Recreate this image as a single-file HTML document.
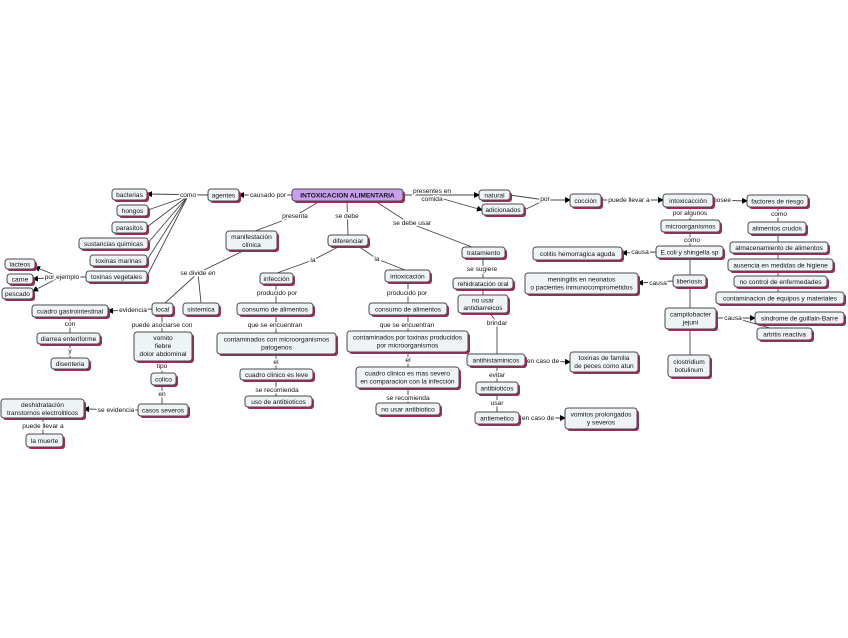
<!DOCTYPE html>
<html><head><meta charset="utf-8"><style>
html,body{margin:0;padding:0;background:#fff;}
svg{display:block;}
text{font-family:"Liberation Sans",sans-serif;font-size:6.6px;fill:#111;text-anchor:middle;}
.l{paint-order:stroke;stroke:#fff;stroke-width:3px;stroke-linejoin:round;}
.sh{fill:#a3285c;}
.n{fill:#eef3f6;stroke:#4a4a4a;stroke-width:1;}
line,polyline{stroke:#444;stroke-width:0.9;fill:none;}
</style></head><body>
<svg width="848" height="638" viewBox="0 0 848 638" xmlns="http://www.w3.org/2000/svg">
<defs><marker id="a" markerWidth="6" markerHeight="6" refX="5" refY="3" orient="auto" markerUnits="userSpaceOnUse"><path d="M0,0 L6,3 L0,6 z" fill="#000"/></marker></defs>
<!-- lines -->
<polyline points="292,195 239,195" marker-end="url(#a)"/>
<polyline points="208,195 147,194" marker-end="url(#a)"/>
<line x1="188" y1="196" x2="148" y2="210"/><line x1="188" y1="196" x2="147" y2="227"/><line x1="188" y1="196" x2="148" y2="243"/><line x1="188" y1="196" x2="147" y2="260"/><line x1="188" y1="196" x2="147" y2="276"/>
<line x1="86" y1="277" x2="60" y2="277"/>
<polyline points="60,277 35,267" marker-end="url(#a)"/><polyline points="60,277 33,279" marker-end="url(#a)"/><polyline points="60,277 33,291" marker-end="url(#a)"/>
<polyline points="320,201 295,216 255,231"/>
<polyline points="347,201 348,235"/>
<polyline points="375,201 409,223 472,247"/>
<line x1="403" y1="195" x2="440" y2="195"/>
<polyline points="440,195 479,195" marker-end="url(#a)"/><polyline points="440,198 482,210" marker-end="url(#a)"/>
<polyline points="510,195 545,200"/><polyline points="524,210 545,200"/>
<polyline points="545,200 570,200" marker-end="url(#a)"/>
<polyline points="601,200 663,200" marker-end="url(#a)"/>
<polyline points="713,200 747,201" marker-end="url(#a)"/>
<line x1="778" y1="207" x2="778" y2="292"/>
<line x1="690" y1="207" x2="690" y2="355"/>
<polyline points="656,252 622,253" marker-end="url(#a)"/>
<polyline points="673,281 638,283" marker-end="url(#a)"/>
<polyline points="716,318 755,318" marker-end="url(#a)"/>
<line x1="735" y1="318" x2="770" y2="328"/>
<polyline points="245,250 198,273 165,303"/><line x1="198" y1="273" x2="201" y2="303"/>
<polyline points="152,309 108,311" marker-end="url(#a)"/>
<line x1="70" y1="317" x2="70" y2="358"/>
<line x1="162" y1="315" x2="162" y2="404"/>
<polyline points="138,410 84,409" marker-end="url(#a)"/>
<line x1="43" y1="418" x2="43" y2="434"/>
<polyline points="340,246 313,260 277,273"/><polyline points="358,246 377,259 405,270"/>
<line x1="276" y1="284" x2="276" y2="396"/>
<line x1="408" y1="282" x2="408" y2="403"/>
<line x1="483" y1="258" x2="483" y2="295"/>
<polyline points="490,313 497,323 497,412"/>
<polyline points="525,360 570,362" marker-end="url(#a)"/>
<polyline points="519,418 565,418" marker-end="url(#a)"/>
<!-- link labels -->
<text class="l" x="268" y="197">causado por</text>
<text class="l" x="188" y="197">como</text>
<text class="l" x="62" y="279">por ejemplo</text>
<text class="l" x="295" y="218">presenta</text>
<text class="l" x="347" y="218">se debe</text>
<text class="l" x="412" y="225">se debe usar</text>
<text class="l" x="432" y="193">presentes en</text>
<text class="l" x="432" y="201">comida</text>
<text class="l" x="545" y="201">por</text>
<text class="l" x="629" y="202">puede llevar a</text>
<text class="l" x="722" y="202">posee</text>
<text class="l" x="779" y="216">como</text>
<text class="l" x="690" y="215">por algunos</text>
<text class="l" x="692" y="242">como</text>
<text class="l" x="640" y="254">causa</text>
<text class="l" x="658" y="285">causa</text>
<text class="l" x="733" y="320">causa</text>
<text class="l" x="198" y="275">se divide en</text>
<text class="l" x="133" y="312">evidencia</text>
<text class="l" x="70" y="326">con</text>
<text class="l" x="70" y="353">y</text>
<text class="l" x="162" y="327">puede asociarse con</text>
<text class="l" x="162" y="368">tipo</text>
<text class="l" x="162" y="396">en</text>
<text class="l" x="116" y="412">se evidencia</text>
<text class="l" x="43" y="428">puede llevar a</text>
<text class="l" x="313" y="262">la</text>
<text class="l" x="377" y="261">la</text>
<text class="l" x="277" y="295">producido por</text>
<text class="l" x="275" y="327">que se encuentran</text>
<text class="l" x="276" y="364">el</text>
<text class="l" x="277" y="392">se recomienda</text>
<text class="l" x="407" y="295">producido por</text>
<text class="l" x="407" y="327">que se encuentran</text>
<text class="l" x="408" y="362">el</text>
<text class="l" x="408" y="400">se recomienda</text>
<text class="l" x="482" y="271">se sugiere</text>
<text class="l" x="497" y="325">brindar</text>
<text class="l" x="497" y="377">evitar</text>
<text class="l" x="497" y="405">usar</text>
<text class="l" x="543" y="363">en caso de</text>
<text class="l" x="538" y="420">en caso de</text>
<!-- nodes -->
<g>
<rect class="sh" x="294" y="191" width="111" height="12" rx="3"/><rect x="292" y="189" width="111" height="12" rx="3" fill="#c9a0f0" stroke="#4a4a4a"/><text x="347.5" y="197.5" font-weight="bold">INTOXICACION ALIMENTARIA</text>
<rect class="sh" x="210" y="191" width="31" height="12" rx="3"/><rect class="n" x="208" y="189" width="31" height="12" rx="3"/><text x="223.5" y="197.5">agentes</text>
<rect class="sh" x="114" y="191" width="35" height="11" rx="3"/><rect class="n" x="112" y="189" width="35" height="11" rx="3"/><text x="129.5" y="197">bacterias</text>
<rect class="sh" x="119" y="207" width="31" height="11" rx="3"/><rect class="n" x="117" y="205" width="31" height="11" rx="3"/><text x="132.5" y="213">hongos</text>
<rect class="sh" x="114" y="224" width="35" height="11" rx="3"/><rect class="n" x="112" y="222" width="35" height="11" rx="3"/><text x="129.5" y="230">parasitos</text>
<rect class="sh" x="81" y="240" width="69" height="11" rx="3"/><rect class="n" x="79" y="238" width="69" height="11" rx="3"/><text x="113.5" y="246">sustancias quimicas</text>
<rect class="sh" x="92" y="257" width="57" height="11" rx="3"/><rect class="n" x="90" y="255" width="57" height="11" rx="3"/><text x="118.5" y="263">toxinas marinas</text>
<rect class="sh" x="88" y="273" width="61" height="11" rx="3"/><rect class="n" x="86" y="271" width="61" height="11" rx="3"/><text x="116.5" y="279">toxinas vegetales</text>
<rect class="sh" x="7" y="261" width="30" height="10" rx="3"/><rect class="n" x="5" y="259" width="30" height="10" rx="3"/><text x="20" y="266.5">lacteos</text>
<rect class="sh" x="9" y="276" width="26" height="10" rx="3"/><rect class="n" x="7" y="274" width="26" height="10" rx="3"/><text x="20" y="281.5">carne</text>
<rect class="sh" x="4" y="290" width="31" height="11" rx="3"/><rect class="n" x="2" y="288" width="31" height="11" rx="3"/><text x="17.5" y="296">pescado</text>
<rect class="sh" x="228" y="233" width="51" height="19" rx="3"/><rect class="n" x="226" y="231" width="51" height="19" rx="3"/><text x="251.5" y="239">manifestación</text><text x="251.5" y="247">clínica</text>
<rect class="sh" x="154" y="305" width="21" height="12" rx="3"/><rect class="n" x="152" y="303" width="21" height="12" rx="3"/><text x="162.5" y="311.5">local</text>
<rect class="sh" x="185" y="305" width="36" height="12" rx="3"/><rect class="n" x="183" y="303" width="36" height="12" rx="3"/><text x="201" y="311.5">sistemica</text>
<rect class="sh" x="34" y="307" width="76" height="12" rx="3"/><rect class="n" x="32" y="305" width="76" height="12" rx="3"/><text x="70" y="313.5">cuadro gastrointestinal</text>
<rect class="sh" x="39" y="335" width="63" height="11" rx="3"/><rect class="n" x="37" y="333" width="63" height="11" rx="3"/><text x="68.5" y="341">diarrea enteriforme</text>
<rect class="sh" x="53" y="360" width="38" height="11" rx="3"/><rect class="n" x="51" y="358" width="38" height="11" rx="3"/><text x="70" y="366">disenteria</text>
<rect class="sh" x="136" y="334" width="58" height="29" rx="3"/><rect class="n" x="134" y="332" width="58" height="29" rx="3"/><text x="163" y="340">vomito</text><text x="163" y="348">fiebre</text><text x="163" y="356">dolor abdominal</text>
<rect class="sh" x="153" y="375" width="25" height="12" rx="3"/><rect class="n" x="151" y="373" width="25" height="12" rx="3"/><text x="163.5" y="381.5">colico</text>
<rect class="sh" x="140" y="406" width="50" height="12" rx="3"/><rect class="n" x="138" y="404" width="50" height="12" rx="3"/><text x="163" y="412.5">casos severos</text>
<rect class="sh" x="3" y="401" width="83" height="19" rx="3"/><rect class="n" x="1" y="399" width="83" height="19" rx="3"/><text x="42.5" y="407">deshidratación</text><text x="42.5" y="415">transtornos electroliticos</text>
<rect class="sh" x="28" y="436" width="37" height="13" rx="3"/><rect class="n" x="26" y="434" width="37" height="13" rx="3"/><text x="44.5" y="443">la muerte</text>
<rect class="sh" x="330" y="237" width="40" height="11" rx="3"/><rect class="n" x="328" y="235" width="40" height="11" rx="3"/><text x="348" y="243">diferenciar</text>
<rect class="sh" x="262" y="275" width="33" height="11" rx="3"/><rect class="n" x="260" y="273" width="33" height="11" rx="3"/><text x="276.5" y="281">infección</text>
<rect class="sh" x="239" y="305" width="76" height="12" rx="3"/><rect class="n" x="237" y="303" width="76" height="12" rx="3"/><text x="275" y="311.5">consumo de alimentos</text>
<rect class="sh" x="219" y="335" width="119" height="21" rx="3"/><rect class="n" x="217" y="333" width="119" height="21" rx="3"/><text x="276.5" y="341.5">contaminados con microorganismos</text><text x="276.5" y="349.5">patogenos</text>
<rect class="sh" x="242" y="371" width="73" height="11" rx="3"/><rect class="n" x="240" y="369" width="73" height="11" rx="3"/><text x="276.5" y="377">cuadro clinico es leve</text>
<rect class="sh" x="247" y="398" width="67" height="11" rx="3"/><rect class="n" x="245" y="396" width="67" height="11" rx="3"/><text x="278.5" y="404">uso de antibioticos</text>
<rect class="sh" x="387" y="272" width="45" height="12" rx="3"/><rect class="n" x="385" y="270" width="45" height="12" rx="3"/><text x="407.5" y="278.5">intoxicación</text>
<rect class="sh" x="371" y="305" width="78" height="12" rx="3"/><rect class="n" x="369" y="303" width="78" height="12" rx="3"/><text x="408" y="311.5">consumo de alimentos</text>
<rect class="sh" x="349" y="333" width="121" height="21" rx="3"/><rect class="n" x="347" y="331" width="121" height="21" rx="3"/><text x="407.5" y="339.5">contaminados por toxinas producidos</text><text x="407.5" y="347.5">por microorganismos</text>
<rect class="sh" x="358" y="369" width="103" height="21" rx="3"/><rect class="n" x="356" y="367" width="103" height="21" rx="3"/><text x="407.5" y="375.5">cuadro clinico es mas severo</text><text x="407.5" y="383.5">en comparacion con la infección</text>
<rect class="sh" x="378" y="405" width="64" height="12" rx="3"/><rect class="n" x="376" y="403" width="64" height="12" rx="3"/><text x="408" y="411.5">no usar antibiotico</text>
<rect class="sh" x="464" y="249" width="43" height="11" rx="3"/><rect class="n" x="462" y="247" width="43" height="11" rx="3"/><text x="483.5" y="255">tratamiento</text>
<rect class="sh" x="455" y="280" width="60" height="11" rx="3"/><rect class="n" x="453" y="278" width="60" height="11" rx="3"/><text x="483" y="286">rehidratación oral</text>
<rect class="sh" x="460" y="297" width="50" height="18" rx="3"/><rect class="n" x="458" y="295" width="50" height="18" rx="3"/><text x="483" y="302.5">no usar</text><text x="483" y="310">antidiarreicos</text>
<rect class="sh" x="469" y="356" width="58" height="12" rx="3"/><rect class="n" x="467" y="354" width="58" height="12" rx="3"/><text x="496" y="362.5">antihistaminicos</text>
<rect class="sh" x="478" y="384" width="42" height="12" rx="3"/><rect class="n" x="476" y="382" width="42" height="12" rx="3"/><text x="497" y="390.5">antibioticos</text>
<rect class="sh" x="477" y="414" width="44" height="12" rx="3"/><rect class="n" x="475" y="412" width="44" height="12" rx="3"/><text x="497" y="420.5">antiemetico</text>
<rect class="sh" x="572" y="354" width="68" height="20" rx="3"/><rect class="n" x="570" y="352" width="68" height="20" rx="3"/><text x="604" y="360">toxinas de familia</text><text x="604" y="368">de peces como atun</text>
<rect class="sh" x="567" y="410" width="72" height="21" rx="3"/><rect class="n" x="565" y="408" width="72" height="21" rx="3"/><text x="601" y="416.5">vomitos prolongados</text><text x="601" y="424.5">y severos</text>
<rect class="sh" x="481" y="192" width="31" height="10" rx="3"/><rect class="n" x="479" y="190" width="31" height="10" rx="3"/><text x="494.5" y="197.5">natural</text>
<rect class="sh" x="484" y="206" width="42" height="11" rx="3"/><rect class="n" x="482" y="204" width="42" height="11" rx="3"/><text x="503" y="212">adicionados</text>
<rect class="sh" x="572" y="196" width="31" height="13" rx="3"/><rect class="n" x="570" y="194" width="31" height="13" rx="3"/><text x="585.5" y="203">cocción</text>
<rect class="sh" x="665" y="196" width="50" height="13" rx="3"/><rect class="n" x="663" y="194" width="50" height="13" rx="3"/><text x="688" y="203">intoxicacción</text>
<rect class="sh" x="749" y="197" width="61" height="12" rx="3"/><rect class="n" x="747" y="195" width="61" height="12" rx="3"/><text x="777.5" y="203.5">factores de riesgo</text>
<rect class="sh" x="750" y="224" width="58" height="12" rx="3"/><rect class="n" x="748" y="222" width="58" height="12" rx="3"/><text x="777" y="230.5">alimentos crudos</text>
<rect class="sh" x="732" y="244" width="98" height="11" rx="3"/><rect class="n" x="730" y="242" width="98" height="11" rx="3"/><text x="779" y="250">almacenamiento de alimentos</text>
<rect class="sh" x="730" y="261" width="105" height="12" rx="3"/><rect class="n" x="728" y="259" width="105" height="12" rx="3"/><text x="780.5" y="267.5">ausencia en medidas de higiene</text>
<rect class="sh" x="736" y="278" width="93" height="11" rx="3"/><rect class="n" x="734" y="276" width="93" height="11" rx="3"/><text x="780.5" y="284">no control de enfermedades</text>
<rect class="sh" x="718" y="294" width="128" height="12" rx="3"/><rect class="n" x="716" y="292" width="128" height="12" rx="3"/><text x="780" y="300.5">contaminacion de equipos y materiales</text>
<rect class="sh" x="663" y="222" width="59" height="12" rx="3"/><rect class="n" x="661" y="220" width="59" height="12" rx="3"/><text x="690.5" y="228.5">microorganismos</text>
<rect class="sh" x="658" y="248" width="67" height="12" rx="3"/><rect class="n" x="656" y="246" width="67" height="12" rx="3"/><text x="689.5" y="254.5">E.coli y shingella sp</text>
<rect class="sh" x="535" y="249" width="89" height="13" rx="3"/><rect class="n" x="533" y="247" width="89" height="13" rx="3"/><text x="577.5" y="256">colitis hemorragica aguda</text>
<rect class="sh" x="675" y="277" width="33" height="12" rx="3"/><rect class="n" x="673" y="275" width="33" height="12" rx="3"/><text x="689.5" y="283.5">liberiosis</text>
<rect class="sh" x="527" y="275" width="113" height="21" rx="3"/><rect class="n" x="525" y="273" width="113" height="21" rx="3"/><text x="581.5" y="281.5">meningitis en neonatos</text><text x="581.5" y="289.5">o pacientes inmunocomprometidos</text>
<rect class="sh" x="667" y="310" width="51" height="21" rx="3"/><rect class="n" x="665" y="308" width="51" height="21" rx="3"/><text x="690.5" y="316.5">campilobacter</text><text x="690.5" y="324.5">jejuni</text>
<rect class="sh" x="757" y="314" width="89" height="12" rx="3"/><rect class="n" x="755" y="312" width="89" height="12" rx="3"/><text x="799.5" y="320.5">sindrome de guillain-Barre</text>
<rect class="sh" x="759" y="330" width="55" height="12" rx="3"/><rect class="n" x="757" y="328" width="55" height="12" rx="3"/><text x="784.5" y="336.5">artritis reactiva</text>
<rect class="sh" x="670" y="357" width="42" height="22" rx="3"/><rect class="n" x="668" y="355" width="42" height="22" rx="3"/><text x="689" y="364">clostridium</text><text x="689" y="372">botulinum</text>
</g>
</svg>
</body></html>
